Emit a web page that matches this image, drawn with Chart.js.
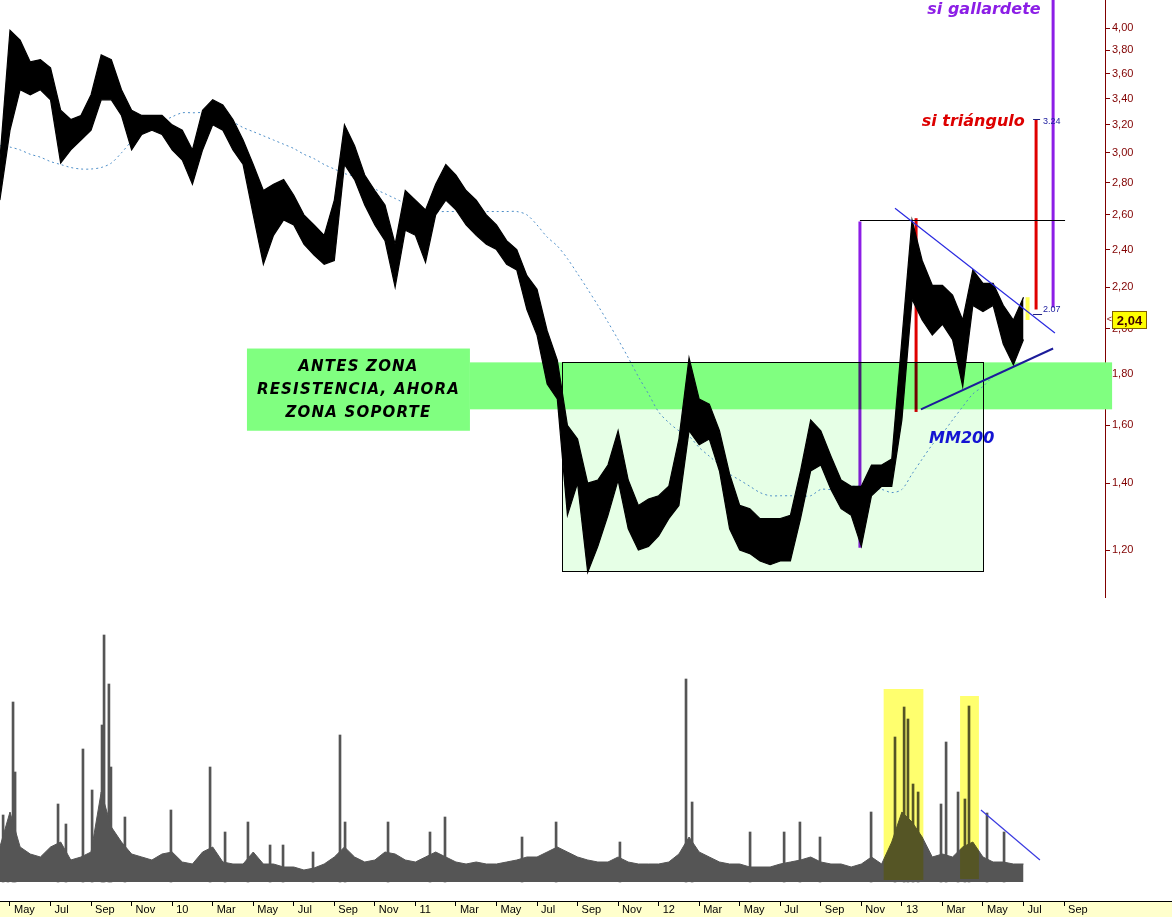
<!DOCTYPE html>
<html><head><meta charset="utf-8">
<script src="https://cdn.jsdelivr.net/npm/chart.js@4.4.1/dist/chart.umd.min.js"></script>
<style>html,body{margin:0;padding:0;background:#fff;overflow:hidden}canvas{display:block}</style>
</head><body>
<canvas id="c" width="1172" height="917"></canvas>
<script>
// x values are months counted from Jan 2009 (0 = Jan 09); price samples every half month
const startMonth = 3.5, stepMonth = 0.5;
const priceHigh = [
 2.95,3.98,3.89,3.70,3.72,3.65,3.31,3.24,3.27,3.43,
 3.76,3.72,3.47,3.31,3.27,3.27,3.27,3.20,3.16,3.02,
 3.31,3.39,3.35,3.24,3.09,2.92,2.75,2.79,2.82,2.72,
 2.60,2.54,2.48,2.69,3.20,3.05,2.85,2.75,2.66,2.43,
 2.75,2.69,2.63,2.79,2.92,2.85,2.75,2.69,2.60,2.54,
 2.45,2.40,2.26,2.19,1.99,1.86,1.60,1.55,1.40,1.41,
 1.46,1.58,1.41,1.33,1.35,1.36,1.39,1.55,1.87,1.70,
 1.68,1.58,1.43,1.33,1.32,1.29,1.29,1.29,1.30,1.44,
 1.62,1.58,1.49,1.41,1.39,1.39,1.46,1.46,1.48,1.95,
 2.57,2.34,2.21,2.21,2.16,2.04,2.29,2.22,2.22,2.11,
 2.04,2.15];
const priceLow = [
 2.69,3.16,3.47,3.43,3.47,3.39,2.93,3.02,3.09,3.16,
 3.39,3.39,3.27,3.02,3.13,3.16,3.13,3.02,2.95,2.79,
 3.02,3.20,3.16,3.02,2.92,2.60,2.32,2.48,2.57,2.54,
 2.43,2.37,2.32,2.34,2.92,2.82,2.66,2.54,2.45,2.20,
 2.51,2.48,2.33,2.60,2.69,2.63,2.54,2.48,2.43,2.40,
 2.32,2.29,2.09,1.97,1.76,1.70,1.30,1.40,1.14,1.21,
 1.30,1.41,1.26,1.20,1.21,1.24,1.29,1.33,1.58,1.53,
 1.55,1.44,1.26,1.20,1.19,1.17,1.16,1.17,1.17,1.29,
 1.44,1.46,1.38,1.32,1.30,1.21,1.36,1.39,1.39,1.62,
 2.14,2.04,1.97,2.02,1.95,1.75,2.11,2.08,2.11,1.93,
 1.84,1.95];
const mm200 = [
 3.05,3.04,3.02,2.99,2.97,2.94,2.92,2.90,2.89,2.89,
 2.90,2.93,3.00,3.08,3.13,3.17,3.22,3.26,3.29,3.29,
 3.29,3.26,3.24,3.22,3.18,3.15,3.12,3.09,3.06,3.03,
 2.99,2.96,2.92,2.89,2.86,2.84,2.80,2.76,2.73,2.70,
 2.67,2.65,2.63,2.62,2.62,2.62,2.62,2.62,2.62,2.62,
 2.62,2.62,2.60,2.54,2.47,2.42,2.35,2.27,2.19,2.11,
 2.03,1.95,1.87,1.79,1.72,1.65,1.61,1.58,1.56,1.52,
 1.49,1.46,1.43,1.41,1.39,1.37,1.36,1.36,1.36,1.36,
 1.36,1.38,1.38,1.39,1.39,1.39,1.38,1.38,1.37,1.38,
 1.43,1.48,1.53,1.57,1.62,1.67,1.72,1.75,1.79,1.81,
 1.83,1.85];
const volumeBase = [
 35,70,35,28,25,35,40,22,25,30,
 90,55,40,28,25,22,28,30,20,18,
 30,35,20,18,18,30,18,18,15,15,
 12,14,18,25,35,25,20,22,30,28,
 22,20,25,30,25,20,18,20,18,18,
 20,22,25,25,30,35,30,25,22,20,
 20,25,20,18,18,18,20,28,45,30,
 25,20,18,18,15,15,15,18,20,22,
 25,20,18,18,15,18,25,18,40,70,
 60,45,25,28,25,35,40,25,20,20,
 18,18];
const spikeMonths = [3.66,3.90,4.15,4.25,6.37,6.76,7.60,8.05,8.54,8.64,8.88,8.98,9.67,11.94,13.87,14.61,15.74,16.83,17.47,18.95,
 20.28,20.53,22.65,24.72,25.46,29.26,30.94,34.09,37.35,37.65,40.51,42.19,42.97,43.96,46.48,47.66,48.11,48.30,48.55,48.80,
 49.93,50.18,50.77,51.11,51.31,52.20,53.04];
const spikeVolumes = [67,55,180,110,78,58,133,92,157,247,198,115,65,72,115,50,60,37,37,30,
 147,60,60,50,65,45,60,40,203,80,50,50,60,45,70,145,175,163,98,90,
 78,140,90,83,176,69,50];
const monthTicks = [4,6,8,10,12,14,16,18,20,22,24,26,28,30,32,34,36,38,40,42,44,46,48,50,52,54,56];
const monthNames = ['Jan','Feb','Mar','Apr','May','Jun','Jul','Aug','Sep','Oct','Nov','Dec'];
const priceTicks = [1.2,1.4,1.6,1.8,2.0,2.2,2.4,2.6,2.8,3.0,3.2,3.4,3.6,3.8,4.0];
const lastPrice = 2.04;
const triangleTarget = 3.24;
const breakoutLevel = 2.07;

const xs = priceHigh.map((_, i) => startMonth + stepMonth * i);
const pts = arr => arr.map((y, i) => ({x: xs[i], y}));

// annotation geometry in data units (month, price / volume)
const A = {
  textBox: {m0: 15.69, m1: 26.69, p0: 1.91, p1: 1.58},
  zone: {m0: 26.69, m1: 58.37, p0: 1.85, p1: 1.66},
  rangeBox: {m0: 31.23, m1: 52.00, p0: 1.85, p1: 1.141},
  resistance: {m0: 45.93, m1: 56.05, p: 2.57},
  purple1: {m: 45.93, p0: 2.56, p1: 1.206},
  purple2: {m: 55.46, p0: 4.3, p1: 2.10},
  red1: {m: 48.70, p0: 2.58, p1: 1.65},
  red2: {m: 54.62, p0: 3.24, p1: 2.09},
  upper: {m0: 47.66, p0: 2.64, m1: 55.55, p1: 1.98},
  lower: {m0: 48.94, p0: 1.66, m1: 55.46, p1: 1.91},
  lastBar: {m: 54.2, p0: 2.15, p1: 2.04},
  volHi1: {m0: 47.10, m1: 49.06, v0: 193, v1: 2},
  volHi2: {m0: 50.87, m1: 51.80, v0: 186, v1: 3},
  volTrend: {m0: 51.90, v0: 72, m1: 54.81, v1: 22},
  gallardete: {m: 52.05, p: 4.17},
  triangulo: {m: 51.52, p: 3.22},
  mm200Label: {m: 50.95, p: 1.55}
};

const annot = {
  id: 'annot',
  beforeDraw(chart) {
    const c = chart.ctx, xa = chart.scales.x;
    c.save();
    c.fillStyle = '#ffffcc';
    c.fillRect(0, xa.top, chart.width, chart.height - xa.top);
    c.strokeStyle = '#000'; c.lineWidth = 1;
    c.beginPath(); c.moveTo(0, xa.top + 0.5); c.lineTo(chart.width, xa.top + 0.5); c.stroke();
    c.restore();
  },
  beforeDatasetsDraw(chart) {
    const c = chart.ctx, X = v => chart.scales.x.getPixelForValue(v), P = v => chart.scales.y.getPixelForValue(v);
    c.save();
    const rb = A.rangeBox;
    c.fillStyle = '#e6ffe6';
    c.fillRect(X(rb.m0), P(rb.p0), X(rb.m1) - X(rb.m0), P(rb.p1) - P(rb.p0));
    const z = A.zone;
    c.fillStyle = '#80ff80';
    c.fillRect(X(z.m0), P(z.p0), X(z.m1) - X(z.m0), P(z.p1) - P(z.p0));
    const t = A.textBox;
    c.fillRect(X(t.m0), P(t.p0), X(t.m1) - X(t.m0), P(t.p1) - P(t.p0));
    c.strokeStyle = '#000'; c.lineWidth = 1;
    c.strokeRect(Math.round(X(rb.m0)) + 0.5, Math.round(P(rb.p0)) + 0.5, Math.round(X(rb.m1) - X(rb.m0)), Math.round(P(rb.p1) - P(rb.p0)));
    // text
    c.fillStyle = '#000';
    c.font = "bold italic 15px 'DejaVu Sans'";
    try { c.letterSpacing = '1.2px'; } catch (e) {}
    c.textAlign = 'center'; c.textBaseline = 'middle';
    const cx = (X(t.m0) + X(t.m1)) / 2, cy = (P(t.p0) + P(t.p1)) / 2;
    c.fillText('ANTES ZONA', cx, cy - 23);
    c.fillText('RESISTENCIA, AHORA', cx, cy);
    c.fillText('ZONA SOPORTE', cx, cy + 23);
    try { c.letterSpacing = '0px'; } catch (e) {}
    c.restore();
  },
  afterDatasetsDraw(chart) {
    const c = chart.ctx, X = v => chart.scales.x.getPixelForValue(v), P = v => chart.scales.y.getPixelForValue(v), V = v => chart.scales.yv.getPixelForValue(v);
    c.save();
    const vline = (o, color, w) => { c.strokeStyle = color; c.lineWidth = w; c.beginPath(); c.moveTo(X(o.m), P(o.p0)); c.lineTo(X(o.m), P(o.p1)); c.stroke(); };
    // resistance line
    c.strokeStyle = '#000'; c.lineWidth = 1;
    c.beginPath(); c.moveTo(X(A.resistance.m0), Math.round(P(A.resistance.p)) + 0.5); c.lineTo(X(A.resistance.m1), Math.round(P(A.resistance.p)) + 0.5); c.stroke();
    // last bar highlight
    c.fillStyle = '#ffff55';
    c.fillRect(X(A.lastBar.m) - 2, P(A.lastBar.p0), 4, P(A.lastBar.p1) - P(A.lastBar.p0));
    c.globalCompositeOperation = 'multiply';
    vline(A.purple1, '#8c1ee6', 3);
    vline(A.purple2, '#8c1ee6', 3);
    vline(A.red1, '#e00000', 3);
    vline(A.red2, '#e00000', 3);
    c.fillStyle = 'rgb(255,255,110)';
    for (const h of [A.volHi1, A.volHi2]) c.fillRect(X(h.m0), V(h.v0), X(h.m1) - X(h.m0), V(h.v1) - V(h.v0));
    c.globalCompositeOperation = 'source-over';
    // triangle
    c.strokeStyle = '#2a2ae0'; c.lineWidth = 1.2;
    c.beginPath(); c.moveTo(X(A.upper.m0), P(A.upper.p0)); c.lineTo(X(A.upper.m1), P(A.upper.p1)); c.stroke();
    c.strokeStyle = '#1c1c9a'; c.lineWidth = 2;
    c.beginPath(); c.moveTo(X(A.lower.m0), P(A.lower.p0)); c.lineTo(X(A.lower.m1), P(A.lower.p1)); c.stroke();
    c.strokeStyle = '#3a3ae0'; c.lineWidth = 1.2;
    c.beginPath(); c.moveTo(X(A.volTrend.m0), V(A.volTrend.v0)); c.lineTo(X(A.volTrend.m1), V(A.volTrend.v1)); c.stroke();
    // markers for 3.24 / 2.07
    const mx = X(A.red2.m);
    c.strokeStyle = '#202080'; c.lineWidth = 1;
    c.beginPath(); c.moveTo(mx - 3, Math.round(P(triangleTarget)) + 0.5); c.lineTo(mx + 4, Math.round(P(triangleTarget)) + 0.5); c.stroke();
    c.beginPath(); c.moveTo(mx - 3, Math.round(P(breakoutLevel)) + 0.5); c.lineTo(mx + 6, Math.round(P(breakoutLevel)) + 0.5); c.stroke();
    c.fillStyle = '#2020a0'; c.font = "9px 'Liberation Sans'"; c.textAlign = 'left'; c.textBaseline = 'middle';
    c.fillText(triangleTarget.toFixed(2), mx + 7, P(triangleTarget) + 2);
    c.fillText(breakoutLevel.toFixed(2), mx + 7, P(breakoutLevel) - 4);
    // labels
    c.textAlign = 'center'; c.textBaseline = 'middle';
    c.font = "bold italic 16px 'DejaVu Sans'";
    c.fillStyle = '#8c1ee6'; c.fillText('si gallardete', X(A.gallardete.m), P(A.gallardete.p));
    c.fillStyle = '#dd0000'; c.fillText('si triángulo', X(A.triangulo.m), P(A.triangulo.p));
    c.fillStyle = '#1414d2'; c.fillText('MM200', X(A.mm200Label.m), P(A.mm200Label.p));
    // last price box
    const ya = chart.scales.y, py = P(lastPrice);
    const bx = ya.left + 7;
    c.fillStyle = '#ffff00'; c.fillRect(bx, py - 9, 35, 18);
    c.strokeStyle = '#806000'; c.lineWidth = 1; c.strokeRect(bx + 0.5, py - 8.5, 34, 17);
    c.fillStyle = '#400000'; c.font = "bold 13px 'Liberation Sans'"; c.textAlign = 'center';
    c.fillText(lastPrice.toFixed(2).replace('.', ','), bx + 17.5, py + 1);
    c.fillStyle = '#800000'; c.font = "9px 'Liberation Sans'"; c.textAlign = 'right';
    c.fillText('<', bx, py);
    c.restore();
  }
};

const noPad = s => { s.paddingLeft = 0; s.paddingRight = 0; s.paddingTop = 0; s.paddingBottom = 0; };

Chart.defaults.font.family = "'Liberation Sans', Arial, sans-serif";
new Chart(document.getElementById('c'), {
  type: 'line',
  data: {
    datasets: [
      {label: 'Máximo', data: pts(priceHigh), yAxisID: 'y', borderColor: '#000', backgroundColor: '#000', borderWidth: 1.2, pointRadius: 0, fill: '+1', tension: 0},
      {label: 'Mínimo', data: pts(priceLow), yAxisID: 'y', borderColor: '#000', borderWidth: 1.2, pointRadius: 0, fill: false, tension: 0},
      {label: 'MM200', data: pts(mm200), yAxisID: 'y', borderColor: '#4f8fc8', borderDash: [2, 3], borderWidth: 1, pointRadius: 0, fill: false, tension: 0.3},
      {label: 'Volumen', data: pts(volumeBase), yAxisID: 'yv', borderColor: '#555', backgroundColor: '#555', borderWidth: 1, pointRadius: 0, fill: 'origin', tension: 0},
      {type: 'bar', label: 'Volumen picos', data: spikeMonths.map((x, i) => ({x, y: spikeVolumes[i]})), yAxisID: 'yv', backgroundColor: '#555', barThickness: 2}
    ]
  },
  options: {
    responsive: false, animation: false, devicePixelRatio: 1,
    plugins: {legend: {display: false}, tooltip: {enabled: false}},
    layout: {padding: 0},
    scales: {
      x: {
        type: 'linear', min: 3.507, max: 58.02, position: 'bottom', offset: false,
        afterBuildTicks: s => { s.ticks = monthTicks.map(v => ({value: v})); },
        ticks: {callback: v => (v % 12 === 0 ? String(9 + v / 12) : monthNames[v % 12]), color: '#000', font: {size: 11}, align: 'start', labelOffset: 4, padding: -3, maxRotation: 0, autoSkip: false},
        grid: {drawOnChartArea: false, tickLength: 5, color: '#000', offset: false},
        border: {display: false},
        afterFit: s => { s.height = 16; noPad(s); }
      },
      y: {
        type: 'logarithmic', position: 'right', stack: 'main', stackWeight: 597, min: 1.0767, max: 4.268,
        afterBuildTicks: s => { s.ticks = priceTicks.map(v => ({value: v})); },
        ticks: {callback: v => Number(v).toFixed(2).replace('.', ','), color: '#800000', font: {size: 11}, padding: 2, autoSkip: false},
        grid: {drawOnChartArea: false, tickLength: 5, color: '#800000'},
        border: {color: '#800000', width: 1},
        afterFit: s => { s.width = 67; noPad(s); }
      },
      yv: {
        type: 'linear', position: 'right', stack: 'main', stackWeight: 304, min: -19, max: 285,
        ticks: {display: false}, grid: {display: false}, border: {display: false},
        afterFit: s => { s.width = 67; noPad(s); }
      }
    }
  },
  plugins: [annot]
});
</script>
</body></html>
